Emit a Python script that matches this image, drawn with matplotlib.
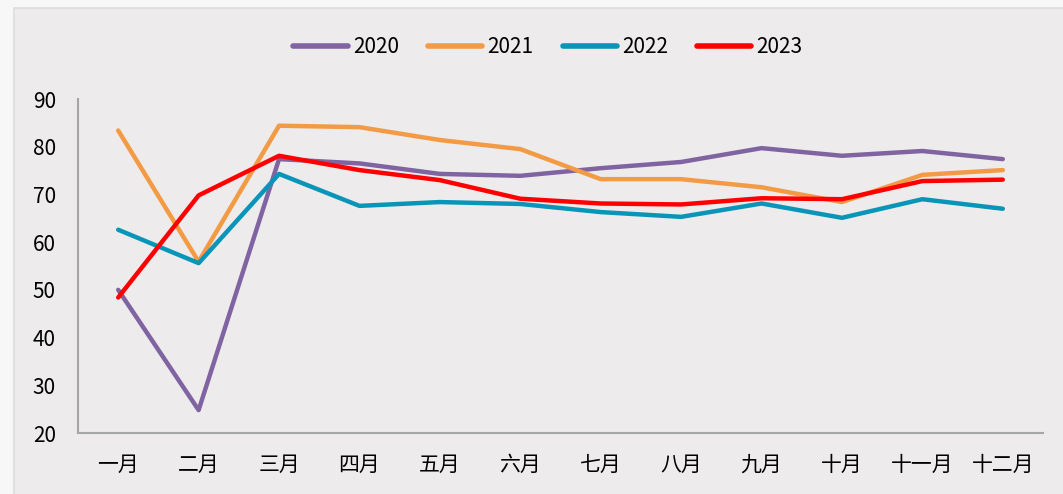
import matplotlib.pyplot as plt
from matplotlib.patches import Rectangle

plt.rcParams['font.family'] = ['Noto Sans CJK SC', 'DejaVu Sans']

months = ['一月', '二月', '三月', '四月', '五月', '六月',
          '七月', '八月', '九月', '十月', '十一月', '十二月']
y2020 = [50.0, 24.8, 77.4, 76.5, 74.3, 73.9, 75.5, 76.8, 79.7, 78.1, 79.1, 77.4]
y2021 = [83.4, 55.9, 84.4, 84.1, 81.4, 79.5, 73.2, 73.2, 71.5, 68.4, 74.1, 75.1]
y2022 = [62.6, 55.6, 74.3, 67.6, 68.4, 68.0, 66.3, 65.3, 68.1, 65.1, 69.0, 67.0]
y2023 = [48.4, 69.8, 78.1, 75.1, 73.0, 69.1, 68.1, 67.9, 69.2, 69.0, 72.8, 73.1]
yticks = [20, 30, 40, 50, 60, 70, 80, 90]

series = [('2020', y2020, '#8064A2'),
          ('2021', y2021, '#F39B44'),
          ('2022', y2022, '#0895B8'),
          ('2023', y2023, '#FF0000')]

fig = plt.figure(figsize=(10.63, 4.94), dpi=100)
fig.patch.set_facecolor('#F7F7F7')
# chart area panel
panel = Rectangle((14 / 1063, -0.01), 1.02, 1 - 8 / 494 + 0.01,
                  transform=fig.transFigure, facecolor='#EDEBEB',
                  edgecolor='#DCDCDC', linewidth=1.2, zorder=-5)
fig.add_artist(panel)

ax = fig.add_axes([78 / 1063, 1 - 433 / 494, (1043 - 78) / 1063, (433 - 99) / 494])
ax.set_facecolor('none')
ax.set_zorder(2)

x = range(len(months))
for name, vals, col in series:
    ax.plot(x, vals, color=col, linewidth=3.2, label=name, solid_capstyle='round')

ax.set_xlim(-0.5, len(months) - 0.5)
ax.set_ylim(20, 90)
ax.set_yticks(yticks)
ax.set_yticklabels([str(v) for v in yticks], fontsize=15)
ax.set_xticks(list(x))
ax.set_xticklabels(months, fontsize=15)
ax.tick_params(axis='both', length=0)
ax.tick_params(axis='y', pad=16)
ax.tick_params(axis='x', pad=15)

for side in ['top', 'right']:
    ax.spines[side].set_visible(False)
for side in ['left', 'bottom']:
    ax.spines[side].set_color('#A6A6A6')
    ax.spines[side].set_linewidth(1.5)

leg = fig.legend(loc='center', bbox_to_anchor=(548 / 1063, 1 - 47 / 494), ncol=4,
                 frameon=False, fontsize=15, handlelength=2.6, columnspacing=1.4,
                 handletextpad=0.25)
for line in leg.get_lines():
    line.set_linewidth(4)

fig.savefig('out.png', dpi=100, facecolor=fig.get_facecolor())
